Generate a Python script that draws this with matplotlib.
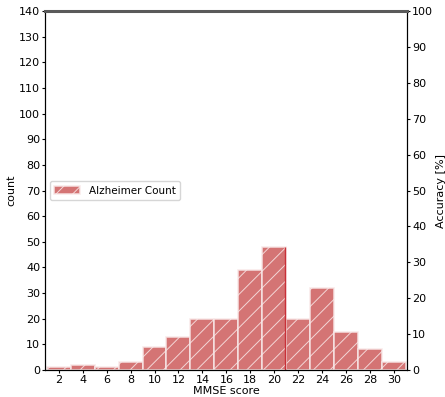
import matplotlib
matplotlib.use("Agg")
import matplotlib.pyplot as plt
import numpy as np

# MMSE histogram data (bin edges 1..31, width 2)
bin_edges = [1, 3, 5, 7, 9, 11, 13, 15, 17, 19, 21, 23, 25, 27, 29, 31]
counts = [1, 2, 1, 3, 9, 13, 20, 20, 39, 48, 20, 32, 15, 8, 3]
x_ticks = [2, 4, 6, 8, 10, 12, 14, 16, 18, 20, 22, 24, 26, 28, 30]
acc_line = [100, 100]

plt.rcParams['hatch.linewidth'] = 0.7

fig = plt.figure(figsize=(4.45, 3.97), dpi=100)
ax = fig.add_axes([0.101, 0.068, 0.814, 0.904])

lefts = np.array(bin_edges[:-1])
widths = np.diff(bin_edges)
ax.bar(lefts, counts, width=widths, align='edge', color='indianred', alpha=0.85,
       edgecolor='#f8e8e8', hatch='//', linewidth=1.2, label='Alzheimer Count')
ax.vlines(20.9, 0, counts[9], color='#c83038', linewidth=1.0)

ax.set_xlim(0.85, 31.1)
ax.set_ylim(0, 140)
ax.set_xticks(x_ticks)
ax.set_yticks(range(0, 141, 10))
ax.tick_params(labelsize=8, length=2, pad=1.5)
ax.set_xlabel('MMSE score', fontsize=8, labelpad=1)
ax.set_ylabel('count', fontsize=8, labelpad=2)
ax.legend(loc='center left', fontsize=7.5, handlelength=2.5)

ax2 = ax.twinx()
ax2.plot([0.85, 31.1], acc_line, color='#5a5a5a', linewidth=2.2, zorder=5, clip_on=False)
ax2.set_ylim(0, 100)
ax2.set_yticks(range(0, 101, 10))
ax2.tick_params(labelsize=8, length=2, pad=1.5)
ax2.set_ylabel('Accuracy [%]', fontsize=8, labelpad=2)
ax2.set_xlim(0.85, 31.1)

fig.savefig('out.png', dpi=100)
